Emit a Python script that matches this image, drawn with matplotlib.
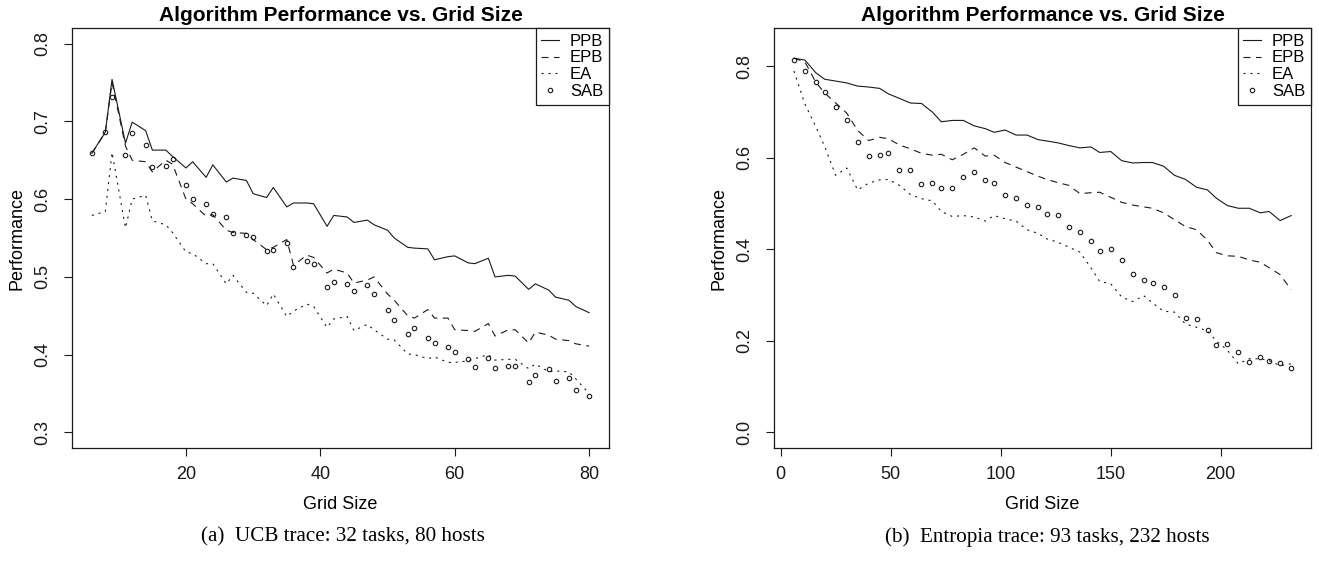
import matplotlib
matplotlib.use('Agg')
import matplotlib.pyplot as plt

# UCB trace (grid sizes 6..80)
x_ucb = [6, 8, 9, 11, 12, 14, 15, 17, 18, 20, 21, 23, 24, 26, 27, 29, 30, 32, 33, 35,
         36, 38, 39, 41, 42, 44, 45, 47, 48, 50, 51, 53, 54, 56, 57, 59, 60, 62, 63, 65,
         66, 68, 69, 71, 72, 74, 75, 77, 78, 80]
ppb_ucb = [.659, .686, .754, .672, .699, .688, .663, .663, .655, .640,
           .648, .628, .644, .622, .627, .624, .607, .602, .615, .590,
           .595, .595, .594, .565, .579, .577, .570, .573, .567, .560,
           .550, .538, .537, .536, .522, .526, .527, .518, .517, .524,
           .500, .502, .501, .484, .491, .483, .474, .470, .462, .454]
epb_ucb = [.659, .686, .750, .668, .650, .648, .635, .650, .645, .600,
           .594, .578, .580, .560, .557, .556, .548, .535, .538, .548,
           .515, .528, .525, .505, .510, .505, .492, .496, .500, .478,
           .470, .450, .447, .458, .447, .447, .432, .431, .430, .440,
           .424, .432, .432, .415, .429, .425, .420, .418, .414, .411]
ea_ucb = [.579, .584, .660, .563, .600, .605, .572, .567, .557, .532,
          .530, .517, .517, .491, .502, .480, .479, .463, .478, .449,
          .456, .465, .462, .435, .446, .449, .431, .439, .432, .420,
          .419, .401, .400, .395, .397, .390, .390, .392, .395, .400,
          .393, .394, .394, .382, .388, .378, .379, .378, .369, .350]
sab_ucb = [.659, .686, .731, .657, .685, .670, .641, .642, .652, .618,
           .600, .594, .581, .577, .556, .554, .551, .533, .535, .543,
           .513, .520, .517, .487, .494, .491, .482, .490, .478, .458,
           .445, .427, .434, .421, .415, .410, .403, .395, .384, .396,
           .383, .385, .386, .365, .374, .381, .366, .370, .355, .347]

# Entropia trace (grid sizes 6..232)
x_ent = [6, 11, 16, 20, 25, 30, 35, 40, 45, 49, 54, 59, 64, 69, 73, 78, 83, 88, 93, 97,
         102, 107, 112, 117, 121, 126, 131, 136, 141, 145, 150, 155, 160, 165, 169, 174,
         179, 184, 189, 194, 198, 203, 208, 213, 218, 222, 227, 232]
ppb_ent = [.818, .814, .786, .772, .768, .764, .757, .755, .752, .740,
           .730, .720, .719, .700, .679, .682, .682, .670, .664, .656,
           .661, .650, .650, .640, .637, .633, .627, .622, .624, .612,
           .614, .594, .589, .590, .590, .582, .562, .553, .536, .530,
           .512, .496, .490, .490, .480, .483, .463, .474]
epb_ent = [.818, .810, .765, .742, .720, .698, .660, .638, .645, .642,
           .628, .620, .610, .606, .608, .596, .608, .622, .604, .606,
           .590, .580, .570, .560, .553, .546, .540, .522, .524, .525,
           .514, .503, .497, .493, .490, .480, .465, .450, .443, .420,
           .393, .386, .385, .377, .372, .360, .345, .312]
ea_ent = [.790, .718, .668, .625, .562, .578, .530, .545, .552, .553,
          .540, .520, .511, .506, .483, .472, .474, .471, .462, .474,
          .467, .462, .443, .435, .423, .416, .405, .394, .360, .330,
          .325, .296, .286, .299, .283, .265, .263, .237, .230, .222,
          .200, .180, .150, .161, .161, .157, .146, .150]
sab_ent = [.815, .790, .766, .744, .711, .682, .635, .604, .606, .611,
           .574, .574, .544, .545, .534, .534, .558, .569, .551, .546,
           .520, .512, .498, .492, .478, .476, .450, .438, .418, .396,
           .400, .376, .347, .334, .327, .318, .301, .251, .247, .223,
           .192, .194, .176, .154, .165, .157, .152, .141]

ucb_yticks = [0.3, 0.4, 0.5, 0.6, 0.7, 0.8]
ucb_xticks = [20, 40, 60, 80]
ent_yticks = [0.0, 0.2, 0.4, 0.6, 0.8]
ent_xticks = [0, 50, 100, 150, 200]

plt.rcParams['font.family'] = ['Liberation Sans', 'DejaVu Sans']
plt.rcParams['lines.scale_dashes'] = False

INK = '#1a1a1a'


def panel(ax, x, ppb, epb, ea, sab, ylim, xticks, yticks):
    ax.plot(x, ppb, color=INK, linewidth=0.8, linestyle='-', label='PPB')
    ax.plot(x, epb, color=INK, linewidth=0.8, dashes=(5, 4), label='EPB')
    ax.plot(x, ea, color=INK, linewidth=0.8, dashes=(1.5, 3.5), label='EA')
    ax.plot(x, sab, linestyle='none', marker='o', markersize=3.2, markerfacecolor='none',
            markeredgecolor=INK, markeredgewidth=0.8, label='SAB')

    # R style axis ranges: data range plus 4% on each side
    span = x[-1] - x[0]
    ax.set_xlim(x[0] - 0.04 * span, x[-1] + 0.04 * span)
    yspan = ylim[1] - ylim[0]
    ax.set_ylim(ylim[0] - 0.04 * yspan, ylim[1] + 0.04 * yspan)

    ax.set_xticks(xticks)
    ax.set_yticks(yticks)
    ax.set_yticklabels([('%.1f' % t) for t in yticks], rotation=90, va='center')
    ax.tick_params(direction='out', length=6, width=0.8, labelsize=13, colors=INK)
    ax.tick_params(axis='y', pad=9)
    ax.tick_params(axis='x', pad=7)
    for s in ax.spines.values():
        s.set_linewidth(0.9)
        s.set_color(INK)

    ax.set_title('Algorithm Performance vs. Grid Size', fontsize=15, fontweight='bold', pad=5)
    ax.set_xlabel('Grid Size', fontsize=13, labelpad=9)
    ax.set_ylabel('Performance', fontsize=13, labelpad=6)

    leg = ax.legend(loc='upper right', borderaxespad=0, fancybox=False, framealpha=1,
                    edgecolor=INK, handlelength=1.05, handletextpad=0.65, labelspacing=0.1,
                    borderpad=0.35, fontsize=12)
    leg.get_frame().set_linewidth(0.9)


def main():
    fig = plt.figure(figsize=(13.19, 5.66), dpi=100)
    ax1 = fig.add_axes([72 / 1319, 118 / 566, 537 / 1319, 420 / 566])
    ax2 = fig.add_axes([774 / 1319, 118 / 566, 537 / 1319, 420 / 566])

    panel(ax1, x_ucb, ppb_ucb, epb_ucb, ea_ucb, sab_ucb, (0.3, 0.8), ucb_xticks, ucb_yticks)
    panel(ax2, x_ent, ppb_ent, epb_ent, ea_ent, sab_ent, (0.0, 0.85), ent_xticks, ent_yticks)

    fig.text(343 / 1319, 1 - 537 / 566, '(a)  UCB trace: 32 tasks, 80 hosts', ha='center', va='center',
             fontsize=15.2, family=['Liberation Serif', 'DejaVu Serif'])
    fig.text(1047 / 1319, 1 - 537 / 566, '(b)  Entropia trace: 93 tasks, 232 hosts', ha='center',
             va='center', fontsize=15.2, family=['Liberation Serif', 'DejaVu Serif'])

    fig.savefig('out.png', dpi=100)


if __name__ == '__main__':
    main()
